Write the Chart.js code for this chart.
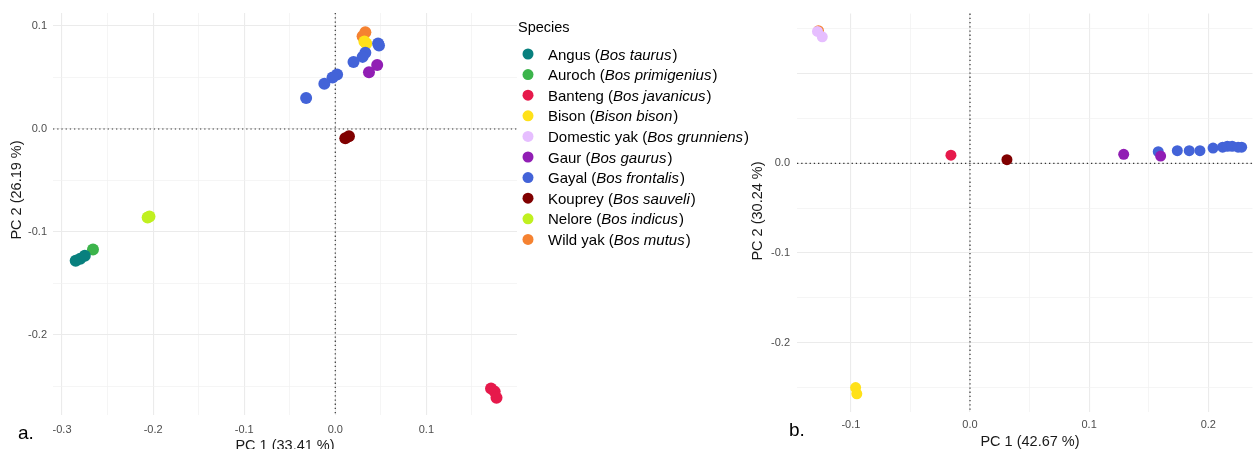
<!DOCTYPE html>
<html>
<head>
<meta charset="utf-8">
<script src="https://cdn.jsdelivr.net/npm/chart.js@4.4.0/dist/chart.umd.min.js"></script>
<style>
  html, body { margin: 0; padding: 0; background: #ffffff; }
  #wrap { position: relative; width: 1258px; height: 449px; overflow: hidden; }
  canvas { position: absolute; top: 0; }
  #pcaA { left: 0; }
  #pcaB { left: 740px; }
</style>
</head>
<body>
<div id="wrap">
  <canvas id="pcaA" width="760" height="449"></canvas>
  <canvas id="pcaB" width="518" height="449"></canvas>
</div>
<script>
// ---- species ----
const speciesNames = ['Angus', 'Auroch', 'Banteng', 'Bison', 'Domestic yak', 'Gaur', 'Gayal', 'Kouprey', 'Nelore', 'Wild yak'];
const latinNames   = ['Bos taurus', 'Bos primigenius', 'Bos javanicus', 'Bison bison', 'Bos grunniens', 'Bos gaurus', 'Bos frontalis', 'Bos sauveli', 'Bos indicus', 'Bos mutus'];
const speciesColors = ['#08807E', '#3CB44B', '#E6194B', '#FFE119', '#E6BEFF', '#911EB4', '#4363D8', '#800000', '#C0F020', '#F58231'];
// stacking of the point layers: lower number is painted on top
const drawOrder = [1, 1, 1, 9, 6, 7, 8, 1, 1, 10];

// ---- panel a: PC 1 (33.41 %) vs PC 2 (26.19 %) ----
const angusA    = [[-0.285, -0.128], [-0.280, -0.126], [-0.275, -0.123]];
const aurochA   = [[-0.266, -0.117]];
const bantengA  = [[0.171, -0.252], [0.175, -0.255], [0.177, -0.261]];
const bisonA    = [[0.034, 0.083], [0.032, 0.085]];
const domYakA   = [];
const gaurA     = [[0.046, 0.062], [0.037, 0.055]];
const gayalA    = [[0.047, 0.083], [0.048, 0.081], [0.033, 0.074], [0.030, 0.070], [0.020, 0.065],
                   [0.002, 0.053], [-0.003, 0.050], [-0.012, 0.044], [-0.032, 0.030]];
const koupreyA  = [[0.015, -0.007], [0.011, -0.009]];
const neloreA   = [[-0.206, -0.086], [-0.204, -0.085]];
const wildYakA  = [[0.033, 0.094], [0.030, 0.090]];

// ---- panel b: PC 1 (42.67 %) vs PC 2 (30.24 %) ----
const angusB    = [];
const aurochB   = [];
const bantengB  = [[-0.016, 0.009]];
const bisonB    = [[-0.096, -0.250], [-0.095, -0.257]];
const domYakB   = [[-0.128, 0.147], [-0.124, 0.141]];
const gaurB     = [[0.129, 0.010], [0.160, 0.008]];
const gayalB    = [[0.158, 0.013], [0.174, 0.014], [0.184, 0.014], [0.193, 0.014], [0.204, 0.017],
                   [0.212, 0.018], [0.216, 0.019], [0.220, 0.019], [0.225, 0.018], [0.228, 0.018]];
const koupreyB  = [[0.031, 0.004]];
const neloreB   = [];
const wildYakB  = [[-0.1272, 0.1479]];

const pointsA = [angusA, aurochA, bantengA, bisonA, domYakA, gaurA, gayalA, koupreyA, neloreA, wildYakA];
const pointsB = [angusB, aurochB, bantengB, bisonB, domYakB, gaurB, gayalB, koupreyB, neloreB, wildYakB];

const FONT = '"Liberation Sans", Arial, Helvetica, sans-serif';

function buildDatasets(points, radius) {
  return speciesNames.map((name, i) => ({
    label: name + ' (' + latinNames[i] + ')',
    data: points[i].map(p => ({ x: p[0], y: p[1] })),
    backgroundColor: speciesColors[i],
    borderWidth: 0,
    pointRadius: radius,
    pointHoverRadius: radius,
    order: drawOrder[i]
  }));
}

const isMajor = v => Math.abs(v * 10 - Math.round(v * 10)) < 1e-6;
const fmt = v => (Math.round(v * 10) / 10).toFixed(1);

function axis(min, max, pad, fixedSize, horizontal, hideLabels) {
  return {
    type: 'linear',
    min: min, max: max,
    afterFit: s => { if (horizontal) s.height = fixedSize; else s.width = fixedSize; },
    border: { display: false },
    grid: {
      drawTicks: false,
      color: c => isMajor(c.tick.value) ? '#EBEBEB' : '#F1F1F1',
      lineWidth: c => isMajor(c.tick.value) ? 1.1 : 0.7
    },
    ticks: {
      stepSize: 0.05,
      includeBounds: false,
      autoSkip: false,
      maxRotation: 0,
      padding: pad,
      color: '#4D4D4D',
      font: { family: FONT, size: 11 },
      callback: v => {
        if (!isMajor(v)) return '';
        const t = fmt(v);
        return hideLabels && hideLabels.includes(t) ? '' : t;
      }
    }
  };
}

// dotted reference lines through the origin
const originLines = {
  id: 'originLines',
  beforeDatasetsDraw(chart) {
    const { ctx, chartArea: a, scales } = chart;
    const x0 = scales.x.getPixelForValue(0);
    const y0 = scales.y.getPixelForValue(0);
    ctx.save();
    ctx.strokeStyle = '#333333';
    ctx.lineWidth = 1.2;
    ctx.setLineDash([1.3, 2.9]);
    ctx.beginPath();
    ctx.moveTo(x0, a.top); ctx.lineTo(x0, a.bottom);
    ctx.moveTo(a.left, y0); ctx.lineTo(a.right, y0);
    ctx.stroke();
    ctx.restore();
  }
};

// axis titles and panel letters
const panelText = {
  id: 'panelText',
  afterDraw(chart, args, opts) {
    const ctx = chart.ctx;
    (opts.items || []).forEach(it => {
      ctx.save();
      ctx.fillStyle = it.color || '#1A1A1A';
      ctx.font = it.font;
      ctx.textAlign = it.align || 'center';
      ctx.textBaseline = it.baseline || 'alphabetic';
      ctx.translate(it.x, it.y);
      if (it.rotate) ctx.rotate(it.rotate);
      ctx.fillText(it.text, 0, 0);
      ctx.restore();
    });
  }
};

// species key with italic binomials
const speciesKey = {
  id: 'speciesKey',
  afterDraw(chart, args, opts) {
    if (!opts.show) return;
    const ctx = chart.ctx;
    const it = 'italic 15px ' + FONT;
    const normal = '15px ' + FONT;
    ctx.save();
    ctx.fillStyle = '#000000';
    ctx.textAlign = 'left';
    ctx.textBaseline = 'alphabetic';
    ctx.font = '14.5px ' + FONT;
    ctx.fillText('Species', opts.x - 10, opts.y - 22);
    speciesNames.forEach((name, i) => {
      const cy = opts.y + i * opts.step;
      ctx.fillStyle = speciesColors[i];
      ctx.beginPath();
      ctx.arc(opts.x, cy, 5.5, 0, Math.PI * 2);
      ctx.fill();
      ctx.fillStyle = '#000000';
      let tx = opts.x + 20;
      const by = cy + 5.5;
      ctx.font = normal;
      const head = name + ' (';
      ctx.fillText(head, tx, by); tx += ctx.measureText(head).width;
      ctx.font = it;
      ctx.fillText(latinNames[i], tx, by); tx += ctx.measureText(latinNames[i]).width + 1;
      ctx.font = normal;
      ctx.fillText(')', tx, by);
    });
    ctx.restore();
  }
};

function makeChart(id, points, radius, xr, yr, layout, text, key, hideY) {
  return new Chart(document.getElementById(id), {
    type: 'scatter',
    data: { datasets: buildDatasets(points, radius) },
    options: {
      responsive: false,
      devicePixelRatio: 1,
      animation: false,
      layout: { padding: layout.padding },
      scales: {
        x: axis(xr[0], xr[1], layout.xPad, layout.xSize, true),
        y: axis(yr[0], yr[1], layout.yPad, layout.ySize, false, hideY)
      },
      plugins: {
        legend: { display: false },
        tooltip: { enabled: false },
        panelText: { items: text },
        speciesKey: key
      }
    },
    plugins: [originLines, panelText, speciesKey]
  });
}

makeChart('pcaA', pointsA, 6, [-0.3099, 0.1995], [-0.2777, 0.1126],
  { padding: { left: 0, top: 13, right: 243, bottom: 0 }, xPad: 8, yPad: 6, xSize: 34, ySize: 53 },
  [
    { text: 'PC 1 (33.41 %)', x: 285, y: 450, font: '14.5px ' + FONT },
    { text: 'PC 2 (26.19 %)', x: 17, y: 190, font: '14.5px ' + FONT, rotate: -Math.PI / 2, baseline: 'middle' },
    { text: 'a.', x: 18, y: 439, font: '19px ' + FONT, align: 'left', color: '#000000' }
  ],
  { show: true, x: 528, y: 54, step: 20.6 });

makeChart('pcaB', pointsB, 5.5, [-0.1452, 0.2371], [-0.2773, 0.1669],
  { padding: { left: 0, top: 10, right: 3, bottom: 0 }, xPad: 6, yPad: 7, xSize: 37, ySize: 57 },
  [
    { text: 'PC 1 (42.67 %)', x: 290, y: 446, font: '14.5px ' + FONT },
    { text: 'PC 2 (30.24 %)', x: 18, y: 211, font: '14.5px ' + FONT, rotate: -Math.PI / 2, baseline: 'middle' },
    { text: 'b.', x: 49, y: 436, font: '19px ' + FONT, align: 'left', color: '#000000' }
  ],
  { show: false }, ['0.1']);
</script>
</body>
</html>
